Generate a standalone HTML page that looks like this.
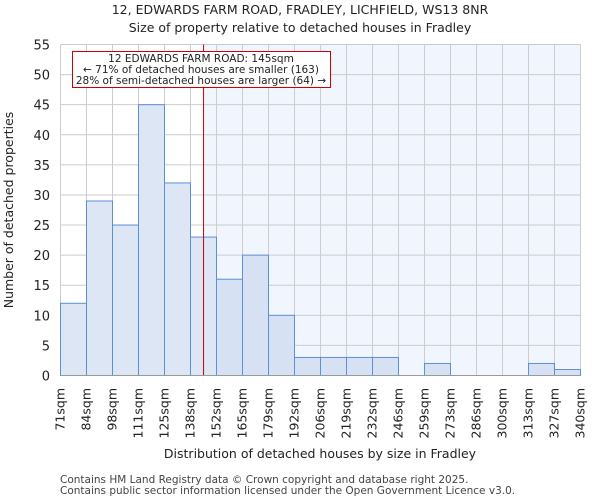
<!DOCTYPE html>
<html><head><meta charset="utf-8"><style>
body{margin:0;background:#fff;font-family:"DejaVu Sans","Liberation Sans",sans-serif;}
svg text{font-family:"DejaVu Sans","Liberation Sans",sans-serif;fill:#222;}
</style></head><body>
<svg id="chart" width="600" height="500" xmlns="http://www.w3.org/2000/svg">
<text x="300" y="14" text-anchor="middle" font-size="12.5">12, EDWARDS FARM ROAD, FRADLEY, LICHFIELD, WS13 8NR</text>
<text x="300" y="32" text-anchor="middle" font-size="12.5">Size of property relative to detached houses in Fradley</text>
<g id="plot"></g>
<text x="320" y="458" text-anchor="middle" font-size="12.5">Distribution of detached houses by size in Fradley</text>
<text transform="translate(13,210) rotate(-90)" text-anchor="middle" font-size="12.5">Number of detached properties</text>
<text x="60" y="483" font-size="10.5" style="fill:#444">Contains HM Land Registry data © Crown copyright and database right 2025.</text>
<text x="60" y="494" font-size="10.5" style="fill:#444">Contains public sector information licensed under the Open Government Licence v3.0.</text>
</svg>
<script>
const categories=["71sqm","84sqm","98sqm","111sqm","125sqm","138sqm","152sqm","165sqm","179sqm","192sqm","206sqm","219sqm","232sqm","246sqm","259sqm","273sqm","286sqm","300sqm","313sqm","327sqm","340sqm"];
const counts=[12,29,25,45,32,23,16,20,10,3,3,3,3,0,2,0,0,0,2,1];
const yTicks=[0,5,10,15,20,25,30,35,40,45,50,55];
const edgeValues=[71,84.45,97.9,111.35,124.8,138.25,151.7,165.15,178.6,192.05,205.5,218.95,232.4,245.85,259.3,272.75,286.2,299.65,313.1,326.55,340];
const marker=145;
const X0=60.5,X1=580.5,Y0=375.5,Y1=44.5,YMAX=55;
const NS="http://www.w3.org/2000/svg";
const g=document.getElementById('plot');
const xb=i=>X0+(X1-X0)*i/counts.length;
const xv=v=>X0+(X1-X0)*(v-edgeValues[0])/(edgeValues[edgeValues.length-1]-edgeValues[0]);
const y=v=>Y0-(Y0-Y1)*v/YMAX;
function mk(t,a){const e=document.createElementNS(NS,t);for(const k in a)e.setAttribute(k,a[k]);g.appendChild(e);return e;}
const mx=xv(marker);
const sh=mk('rect',{x:mx,y:Y1,width:X1-mx,height:Y0-Y1,fill:'#f1f5fd'});


yTicks.forEach(t=>{const l=mk('line',{x1:X0,x2:X1,y1:y(t),y2:y(t),stroke:'#cccccc'});


const tx=mk('text',{x:50,y:y(t)+5,'text-anchor':'end','font-size':'13'});tx.textContent=t;

});
categories.forEach((c,i)=>{const l=mk('line',{x1:xb(i),x2:xb(i),y1:Y1,y2:Y0,stroke:'#cccccc'});


const tx=mk('text',{transform:`translate(${xb(i)+4},388) rotate(-90)`,'text-anchor':'end','font-size':'12.5'});tx.textContent=c;

});
counts.forEach((v,i)=>{if(v<=0)return;const r=mk('rect',{x:xb(i),y:y(v),width:xb(i+1)-xb(i),height:Y0-y(v),fill:xb(i)<mx?'#dce6f4':'#d6e2f4',stroke:'#5b8fd6','stroke-width':1});

});
const ml=mk('line',{x1:mx,x2:mx,y1:Y1,y2:Y0,stroke:'#cc0000','stroke-width':1});


const ax=mk('line',{x1:X0,x2:X1,y1:Y0,y2:Y0,stroke:'#999'});


const box=mk('rect',{x:72.5,y:51.5,width:258,height:36,fill:'#fff',stroke:'#cc0000'});


["12 EDWARDS FARM ROAD: 145sqm","← 71% of detached houses are smaller (163)","28% of semi-detached houses are larger (64) →"].forEach((s,i)=>{const t=mk('text',{x:201,y:62+i*11,'text-anchor':'middle','font-size':'10.5'});t.textContent=s;

});
</script>
</body></html>
